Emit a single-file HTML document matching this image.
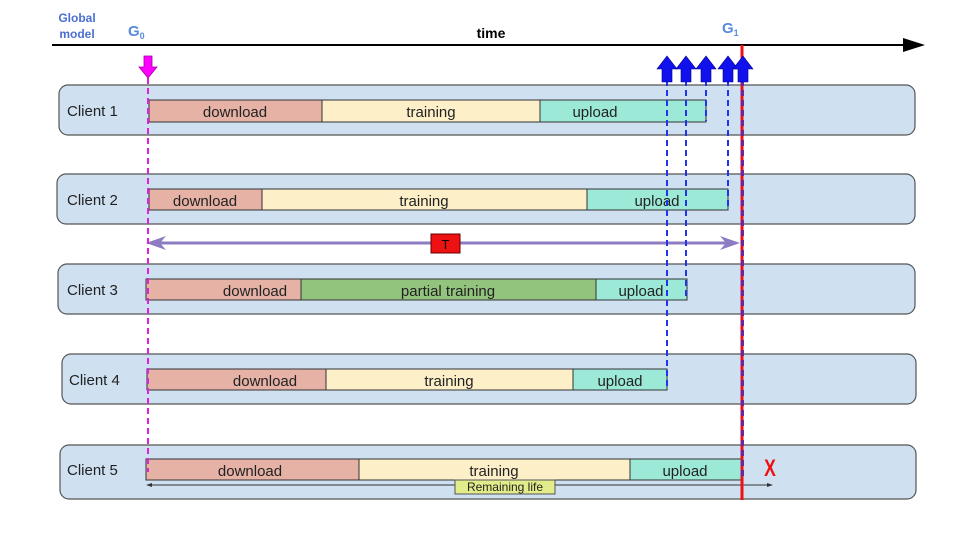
<!DOCTYPE html>
<html><head><meta charset="utf-8"><style>
html,body{margin:0;padding:0;background:#fff;}
svg{display:block;font-family:"Liberation Sans",Arial,sans-serif;}
</style></head><body>
<svg width="960" height="540" viewBox="0 0 960 540" xmlns="http://www.w3.org/2000/svg">
<!-- header -->
<text x="77" y="22" font-size="12" font-weight="bold" fill="#4a6fd0" text-anchor="middle">Global</text>
<text x="77" y="38" font-size="12" font-weight="bold" fill="#4a6fd0" text-anchor="middle">model</text>
<text x="128" y="36" font-size="15" font-weight="bold" fill="#5a8ae0">G<tspan font-size="9" dy="3">0</tspan></text>
<text x="722" y="33" font-size="15" font-weight="bold" fill="#5a8ae0">G<tspan font-size="9" dy="3">1</tspan></text>
<text x="491" y="38" font-size="14" font-weight="bold" fill="#000" text-anchor="middle">time</text>
<line x1="52" y1="45" x2="905" y2="45" stroke="#000" stroke-width="2"/>
<path d="M903,38 L925,45 L903,52 Z" fill="#000"/>

<!-- client boxes -->
<g fill="#cfe0f1" stroke="#555" stroke-width="1.2">
<rect x="59" y="85" width="856" height="50" rx="9"/>
<rect x="57" y="174" width="858" height="50" rx="9"/>
<rect x="58" y="264" width="857" height="50" rx="9"/>
<rect x="62" y="354" width="854" height="50" rx="9"/>
<rect x="60" y="445" width="856" height="54" rx="9"/>
</g>
<g font-size="15" fill="#222">
<text x="67" y="116">Client 1</text>
<text x="67" y="205">Client 2</text>
<text x="67" y="295">Client 3</text>
<text x="69" y="385">Client 4</text>
<text x="67" y="475">Client 5</text>
</g>

<!-- bars -->
<g stroke="#333" stroke-width="1">
<rect x="149" y="100" width="173" height="22" fill="#e6b2a6"/>
<rect x="322" y="100" width="218" height="22" fill="#fdefc8"/>
<rect x="540" y="100" width="166" height="22" fill="#9ce9d8"/>
<rect x="149" y="189" width="113" height="21" fill="#e6b2a6"/>
<rect x="262" y="189" width="325" height="21" fill="#fdefc8"/>
<rect x="587" y="189" width="141" height="21" fill="#9ce9d8"/>
<rect x="146" y="279" width="155" height="21" fill="#e6b2a6"/>
<rect x="301" y="279" width="295" height="21" fill="#93c47d"/>
<rect x="596" y="279" width="91" height="21" fill="#9ce9d8"/>
<rect x="147" y="369" width="179" height="21" fill="#e6b2a6"/>
<rect x="326" y="369" width="247" height="21" fill="#fdefc8"/>
<rect x="573" y="369" width="94" height="21" fill="#9ce9d8"/>
<rect x="146" y="459" width="213" height="21" fill="#e6b2a6"/>
<rect x="359" y="459" width="271" height="21" fill="#fdefc8"/>
<rect x="630" y="459" width="111" height="21" fill="#9ce9d8"/>
</g>
<g font-size="15" fill="#222" text-anchor="middle">
<text x="235" y="117">download</text>
<text x="431" y="117">training</text>
<text x="595" y="117">upload</text>
<text x="205" y="206">download</text>
<text x="424" y="206">training</text>
<text x="657" y="206">upload</text>
<text x="255" y="296">download</text>
<text x="448" y="296">partial training</text>
<text x="641" y="296">upload</text>
<text x="265" y="386">download</text>
<text x="449" y="386">training</text>
<text x="620" y="386">upload</text>
<text x="250" y="476">download</text>
<text x="494" y="476">training</text>
<text x="685" y="476">upload</text>
</g>

<!-- remaining life -->
<line x1="148" y1="485" x2="770" y2="485" stroke="#333" stroke-width="1"/>
<path d="M146,485 L152,483 L152,487 Z" fill="#333"/>
<path d="M773,485 L767,483 L767,487 Z" fill="#333"/>
<rect x="455" y="480" width="100" height="14" fill="#e3ec8a" stroke="#555" stroke-width="1"/>
<text x="505" y="491" font-size="12" fill="#222" text-anchor="middle">Remaining life</text>

<!-- T arrow -->
<line x1="150" y1="243" x2="735" y2="243" stroke="#8e7cc3" stroke-width="3"/>
<path d="M146,243 L166,236 L160,243 L166,250 Z" fill="#8e7cc3"/>
<path d="M740,243 L720,236 L726,243 L720,250 Z" fill="#8e7cc3"/>
<rect x="431" y="234" width="29" height="19" fill="#ee1111" stroke="#600" stroke-width="1"/>
<text x="445.5" y="249" font-size="13" fill="#000" text-anchor="middle">T</text>

<!-- magenta -->
<line x1="148" y1="78" x2="148" y2="472" stroke="#e020e0" stroke-width="2" stroke-dasharray="6,4"/>
<path d="M144,56 L152,56 L152,67 L157,67 L148,78 L139,67 L144,67 Z" fill="#ff00ff" stroke="#a000a0" stroke-width="0.8"/>

<!-- blue dashed -->
<g stroke="#2233ee" stroke-width="2" stroke-dasharray="6,4">
<line x1="667" y1="80" x2="667" y2="388"/>
<line x1="686" y1="80" x2="686" y2="298"/>
<line x1="706" y1="80" x2="706" y2="121"/>
<line x1="728" y1="80" x2="728" y2="209"/>
<line x1="743" y1="80" x2="743" y2="480"/>
</g>
<!-- red line -->
<line x1="742" y1="45" x2="742" y2="500" stroke="#ee1111" stroke-width="3"/>
<line x1="742" y1="80" x2="742" y2="480" stroke="#2233ee" stroke-width="1.5" stroke-dasharray="6,4"/>
<!-- up arrows -->
<g fill="#1111ee" stroke="#000088" stroke-width="0.6">
<path d="M662,82 L672,82 L672,69 L677,69 L667,56 L657,69 L662,69 Z"/>
<path d="M681,82 L691,82 L691,69 L696,69 L686,56 L676,69 L681,69 Z"/>
<path d="M701,82 L711,82 L711,69 L716,69 L706,56 L696,69 L701,69 Z"/>
<path d="M723,82 L733,82 L733,69 L738,69 L728,56 L718,69 L723,69 Z"/>
<path d="M738,82 L748,82 L748,69 L753,69 L743,56 L733,69 L738,69 Z"/>
</g>

<!-- X -->
<text x="0" y="0" font-size="22" font-weight="bold" fill="#ee1111" text-anchor="middle" transform="translate(770,476) scale(0.8,1.1)">X</text>
</svg>
</body></html>
